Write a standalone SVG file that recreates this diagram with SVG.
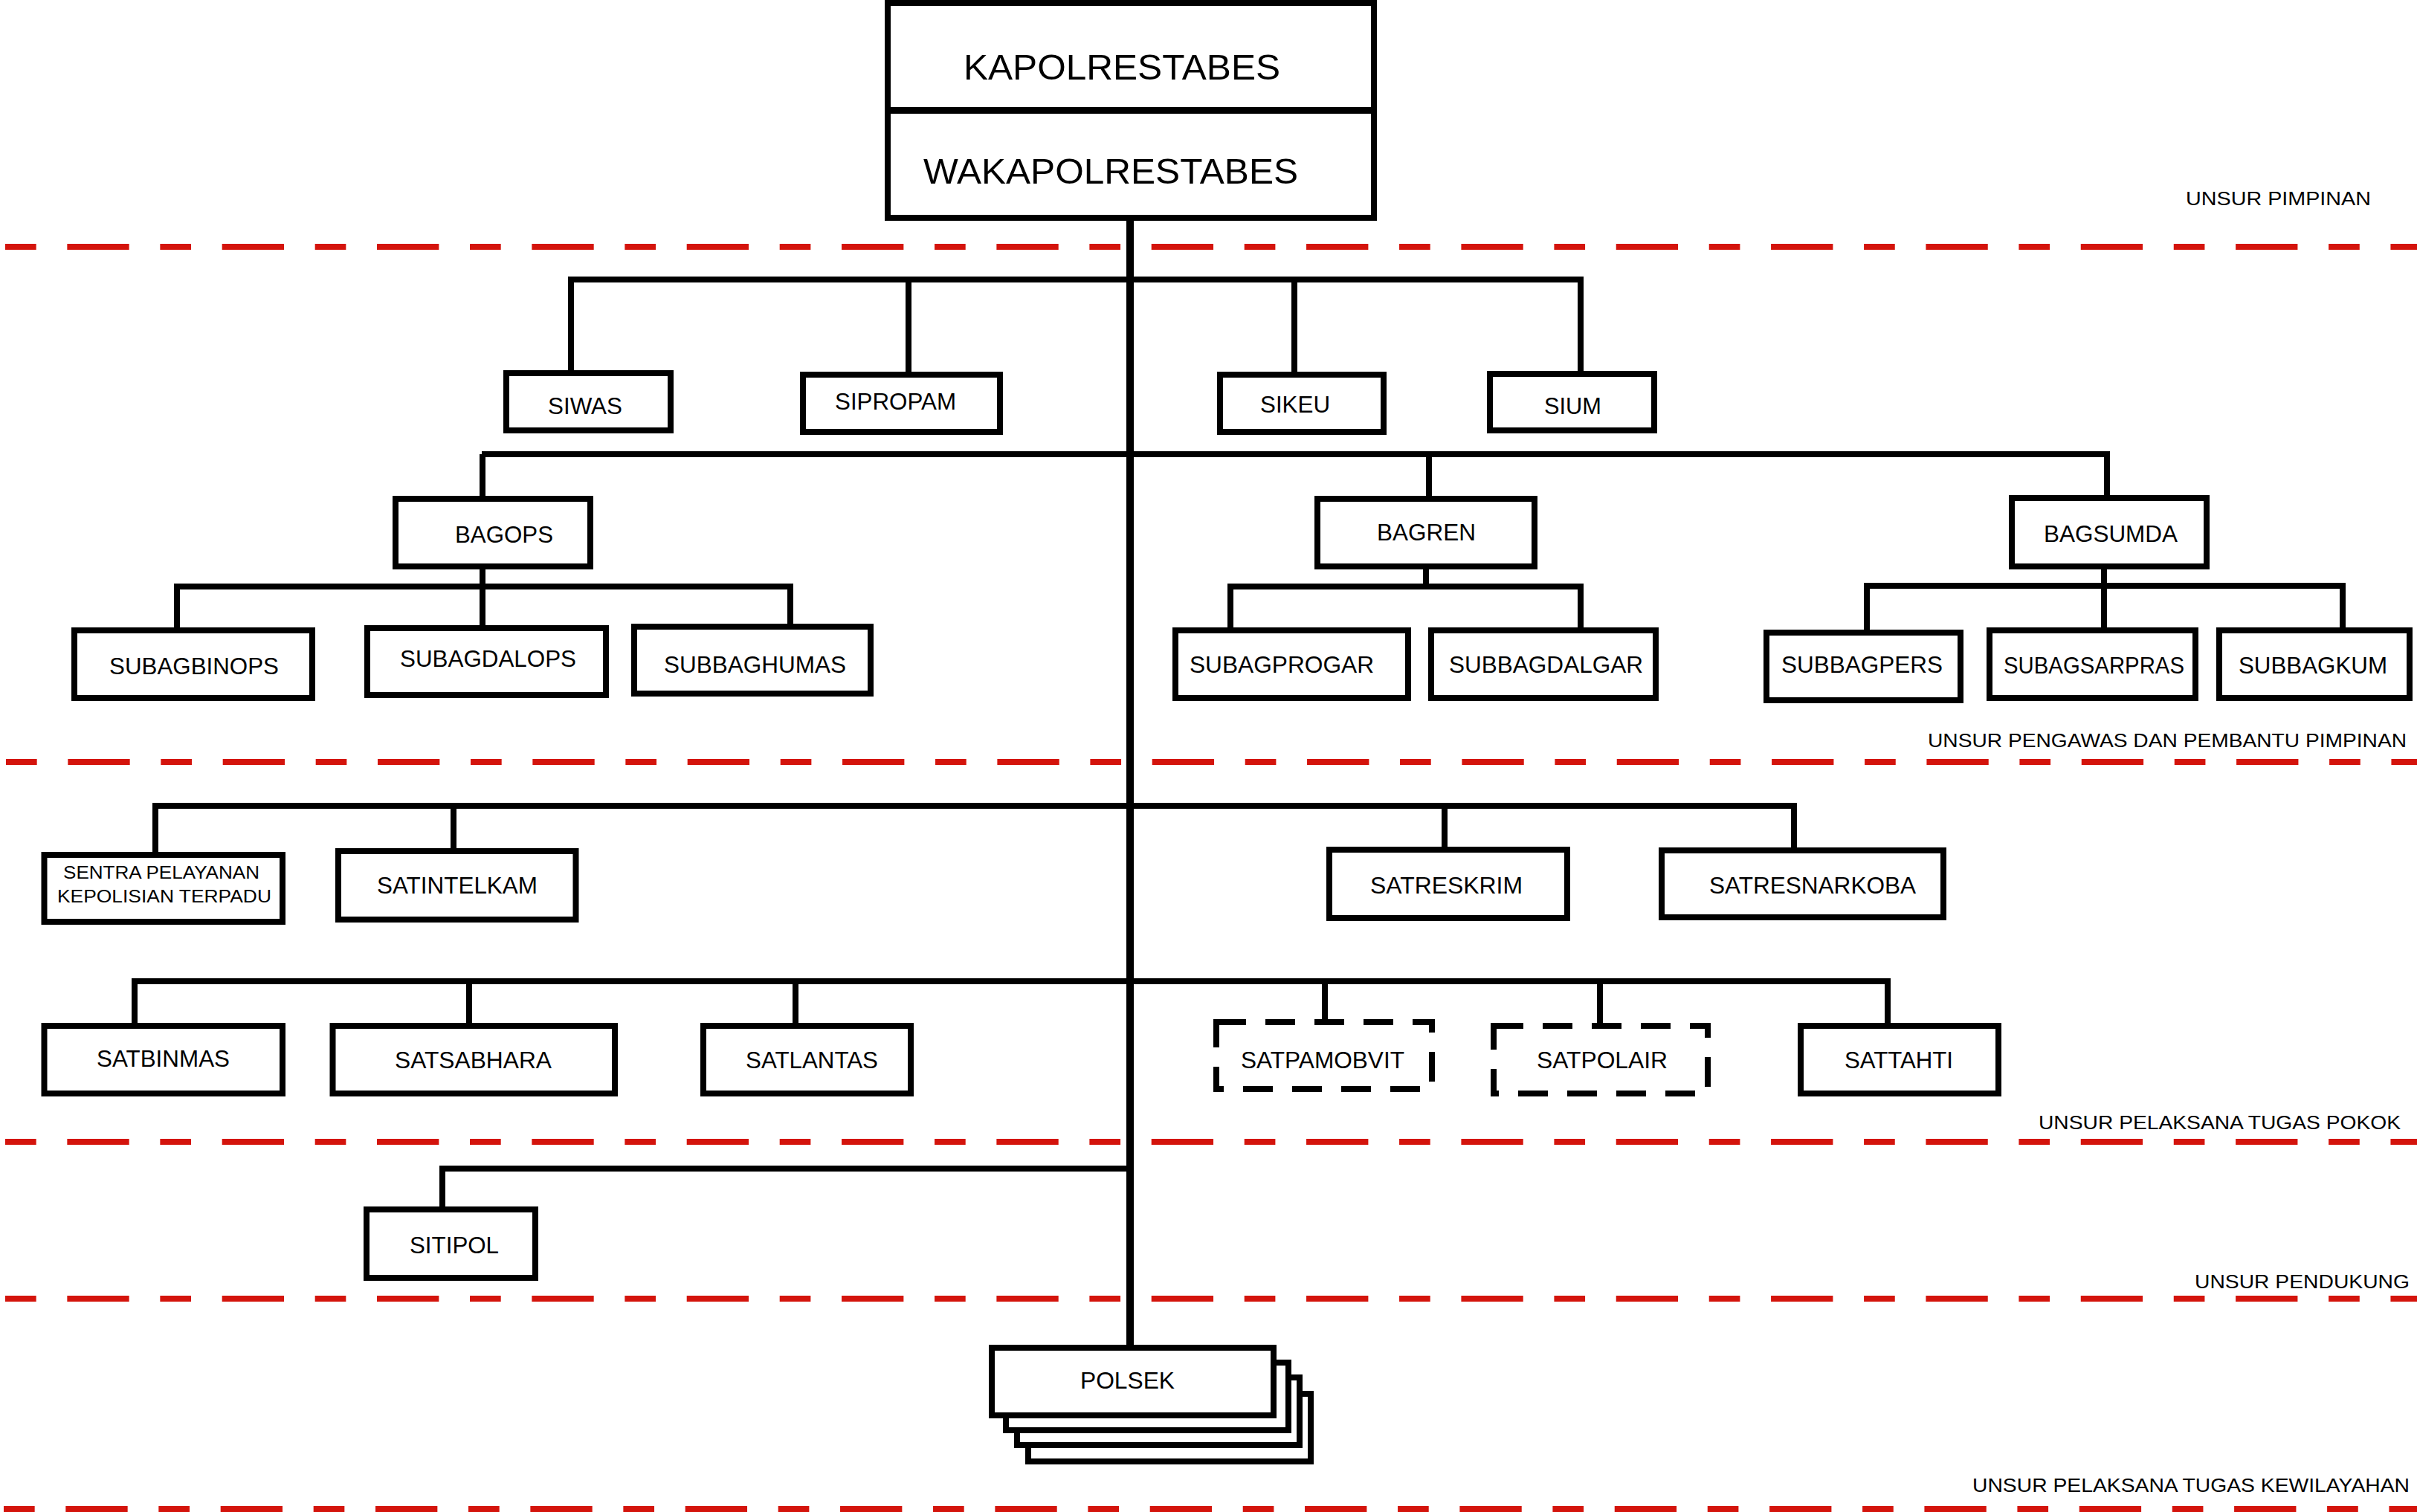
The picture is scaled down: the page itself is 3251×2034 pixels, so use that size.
<svg xmlns="http://www.w3.org/2000/svg" width="3251" height="2034" viewBox="0 0 3251 2034">
<style>
.bx{fill:#fff;stroke:#000;stroke-width:8}
.dbx{fill:#fff;stroke:#000;stroke-width:8;stroke-dasharray:40 26}
.t{font-family:"Liberation Sans",Arial,sans-serif;font-size:31px;fill:#000}
.tb{font-family:"Liberation Sans",Arial,sans-serif;font-size:49px;fill:#000}
.ts{font-family:"Liberation Sans",Arial,sans-serif;font-size:23px;fill:#000}
.tl{font-family:"Liberation Sans",Arial,sans-serif;font-size:26px;fill:#000}
.c{fill:none;stroke:#000;stroke-width:8;stroke-linejoin:miter;stroke-linecap:butt}
.main{fill:none;stroke:#000;stroke-width:10}
.sep{fill:none;stroke:#d4140c;stroke-width:8;stroke-dasharray:41.67 41.67 83.33 41.67}
</style>
<rect width="3251" height="2034" fill="#fff"/>
<g id="separators">
<line class="sep" x1="7" y1="332" x2="3251" y2="332"/>
<line class="sep" x1="8" y1="1025" x2="3251" y2="1025"/>
<line class="sep" x1="7" y1="1536" x2="3251" y2="1536"/>
<line class="sep" x1="7" y1="1747" x2="3251" y2="1747"/>
<line class="sep" x1="5" y1="2030" x2="3251" y2="2030"/>
</g>
<g id="connectors">
<line class="main" x1="1520" y1="293" x2="1520" y2="1813"/>
<path class="c" d="M768 502 V376 H2126 V503"/>
<path class="c" d="M1222 376 V504 M1741 376 V504"/>
<path class="c" d="M649 611 V671"/>
<path class="c" d="M648 611 H2834 V670"/>
<path class="c" d="M1922 611 V671"/>
<path class="c" d="M649 766 V789"/>
<path class="c" d="M238 848 V789 H1063 V843"/>
<path class="c" d="M649 789 V845"/>
<path class="c" d="M1918 766 V789"/>
<path class="c" d="M1655 848 V789 H2126 V848"/>
<path class="c" d="M2830 766 V788"/>
<path class="c" d="M2511 851 V788 H3151 V848"/>
<path class="c" d="M2830 788 V848"/>
<path class="c" d="M209 1150 V1084 H2413 V1144"/>
<path class="c" d="M610 1084 V1145 M1943 1084 V1143"/>
<path class="c" d="M181 1380 V1320 H2539 V1380"/>
<path class="c" d="M631 1320 V1380 M1070 1320 V1380 M1782 1320 V1375 M2152 1320 V1380"/>
<path class="c" d="M595 1627 V1572 H1520"/>
</g>
<g id="n-kapolrestabes">
<rect class="bx" x="1194" y="4" width="654" height="289"/>
<line x1="1190" y1="148.5" x2="1852" y2="148.5" stroke="#000" stroke-width="9"/>
<text class="tb" x="1296" y="107" textLength="426" lengthAdjust="spacingAndGlyphs">KAPOLRESTABES</text>
<text class="tb" x="1242" y="247" textLength="504" lengthAdjust="spacingAndGlyphs">WAKAPOLRESTABES</text>
</g>
<g id="n-siwas"><rect class="bx" x="681" y="502" width="221" height="77"/><text class="t" x="737" y="557" textLength="100" lengthAdjust="spacingAndGlyphs">SIWAS</text></g>
<g id="n-sipropam"><rect class="bx" x="1080" y="504" width="265" height="77"/><text class="t" x="1123" y="551" textLength="163" lengthAdjust="spacingAndGlyphs">SIPROPAM</text></g>
<g id="n-sikeu"><rect class="bx" x="1641" y="504" width="220" height="77"/><text class="t" x="1695" y="555" textLength="94" lengthAdjust="spacingAndGlyphs">SIKEU</text></g>
<g id="n-sium"><rect class="bx" x="2004" y="503" width="221" height="76"/><text class="t" x="2077" y="557" textLength="77" lengthAdjust="spacingAndGlyphs">SIUM</text></g>
<g id="n-bagops"><rect class="bx" x="532" y="671" width="262" height="91"/><text class="t" x="612" y="730" textLength="132" lengthAdjust="spacingAndGlyphs">BAGOPS</text></g>
<g id="n-bagren"><rect class="bx" x="1772" y="671" width="292" height="91"/><text class="t" x="1852" y="727" textLength="133" lengthAdjust="spacingAndGlyphs">BAGREN</text></g>
<g id="n-bagsumda"><rect class="bx" x="2706" y="670" width="262" height="92"/><text class="t" x="2749" y="729" textLength="180" lengthAdjust="spacingAndGlyphs">BAGSUMDA</text></g>
<g id="n-subagbinops"><rect class="bx" x="100" y="848" width="320" height="91"/><text class="t" x="147" y="907" textLength="228" lengthAdjust="spacingAndGlyphs">SUBAGBINOPS</text></g>
<g id="n-subagdalops"><rect class="bx" x="494" y="845" width="321" height="90"/><text class="t" x="538" y="897" textLength="237" lengthAdjust="spacingAndGlyphs">SUBAGDALOPS</text></g>
<g id="n-subbaghumas"><rect class="bx" x="853" y="843" width="318" height="90"/><text class="t" x="893" y="905" textLength="245" lengthAdjust="spacingAndGlyphs">SUBBAGHUMAS</text></g>
<g id="n-subagprogar"><rect class="bx" x="1581" y="848" width="313" height="91"/><text class="t" x="1600" y="905" textLength="248" lengthAdjust="spacingAndGlyphs">SUBAGPROGAR</text></g>
<g id="n-subbagdalgar"><rect class="bx" x="1925" y="848" width="302" height="91"/><text class="t" x="1949" y="905" textLength="261" lengthAdjust="spacingAndGlyphs">SUBBAGDALGAR</text></g>
<g id="n-subbagpers"><rect class="bx" x="2376" y="851" width="261" height="91"/><text class="t" x="2396" y="905" textLength="217" lengthAdjust="spacingAndGlyphs">SUBBAGPERS</text></g>
<g id="n-subagsarpras"><rect class="bx" x="2676" y="848" width="277" height="91"/><text class="t" x="2695" y="906" textLength="243" lengthAdjust="spacingAndGlyphs">SUBAGSARPRAS</text></g>
<g id="n-subbagkum"><rect class="bx" x="2985" y="848" width="256" height="91"/><text class="t" x="3011" y="906" textLength="200" lengthAdjust="spacingAndGlyphs">SUBBAGKUM</text></g>
<g id="n-sentra"><rect class="bx" x="59.5" y="1150" width="320.5" height="90"/><text class="ts" x="85" y="1182" textLength="264" lengthAdjust="spacingAndGlyphs">SENTRA PELAYANAN</text><text class="ts" x="77" y="1214" textLength="288" lengthAdjust="spacingAndGlyphs">KEPOLISIAN TERPADU</text></g>
<g id="n-satintelkam"><rect class="bx" x="455" y="1145" width="319.5" height="92"/><text class="t" x="507" y="1202" textLength="216" lengthAdjust="spacingAndGlyphs">SATINTELKAM</text></g>
<g id="n-satreskrim"><rect class="bx" x="1788" y="1143" width="320" height="92"/><text class="t" x="1843" y="1202" textLength="205" lengthAdjust="spacingAndGlyphs">SATRESKRIM</text></g>
<g id="n-satresnarkoba"><rect class="bx" x="2235" y="1144" width="379" height="90"/><text class="t" x="2299" y="1202" textLength="278" lengthAdjust="spacingAndGlyphs">SATRESNARKOBA</text></g>
<g id="n-satbinmas"><rect class="bx" x="59.5" y="1380" width="320.5" height="91"/><text class="t" x="130" y="1435" textLength="179" lengthAdjust="spacingAndGlyphs">SATBINMAS</text></g>
<g id="n-satsabhara"><rect class="bx" x="447.5" y="1380" width="379.5" height="91"/><text class="t" x="531" y="1437" textLength="211" lengthAdjust="spacingAndGlyphs">SATSABHARA</text></g>
<g id="n-satlantas"><rect class="bx" x="946" y="1380" width="279" height="91"/><text class="t" x="1003" y="1437" textLength="178" lengthAdjust="spacingAndGlyphs">SATLANTAS</text></g>
<g id="n-satpamobvit"><rect class="dbx" x="1636" y="1375" width="290" height="90"/><text class="t" x="1669" y="1437" textLength="220" lengthAdjust="spacingAndGlyphs">SATPAMOBVIT</text></g>
<g id="n-satpolair"><rect class="dbx" x="2009" y="1380" width="288" height="91"/><text class="t" x="2067" y="1437" textLength="176" lengthAdjust="spacingAndGlyphs">SATPOLAIR</text></g>
<g id="n-sattahti"><rect class="bx" x="2422" y="1380" width="266" height="91"/><text class="t" x="2481" y="1437" textLength="146" lengthAdjust="spacingAndGlyphs">SATTAHTI</text></g>
<g id="n-sitipol"><rect class="bx" x="493" y="1627" width="227" height="92"/><text class="t" x="551" y="1686" textLength="120" lengthAdjust="spacingAndGlyphs">SITIPOL</text></g>
<g id="n-polsek">
<rect class="bx" x="1383" y="1875" width="380" height="91"/>
<rect class="bx" x="1368" y="1853" width="380" height="91"/>
<rect class="bx" x="1353" y="1833" width="380" height="91"/>
<rect class="bx" x="1334" y="1813" width="379" height="91"/>
<text class="t" x="1453" y="1868" textLength="127" lengthAdjust="spacingAndGlyphs">POLSEK</text>
</g>
<g id="labels">
<text class="tl" x="2940" y="276" textLength="249" lengthAdjust="spacingAndGlyphs">UNSUR PIMPINAN</text>
<text class="tl" x="2593" y="1005" textLength="644" lengthAdjust="spacingAndGlyphs">UNSUR PENGAWAS DAN PEMBANTU PIMPINAN</text>
<text class="tl" x="2742" y="1519" textLength="487" lengthAdjust="spacingAndGlyphs">UNSUR PELAKSANA TUGAS POKOK</text>
<text class="tl" x="2952" y="1733" textLength="289" lengthAdjust="spacingAndGlyphs">UNSUR PENDUKUNG</text>
<text class="tl" x="2653" y="2007" textLength="588" lengthAdjust="spacingAndGlyphs">UNSUR PELAKSANA TUGAS KEWILAYAHAN</text>
</g>
</svg>
